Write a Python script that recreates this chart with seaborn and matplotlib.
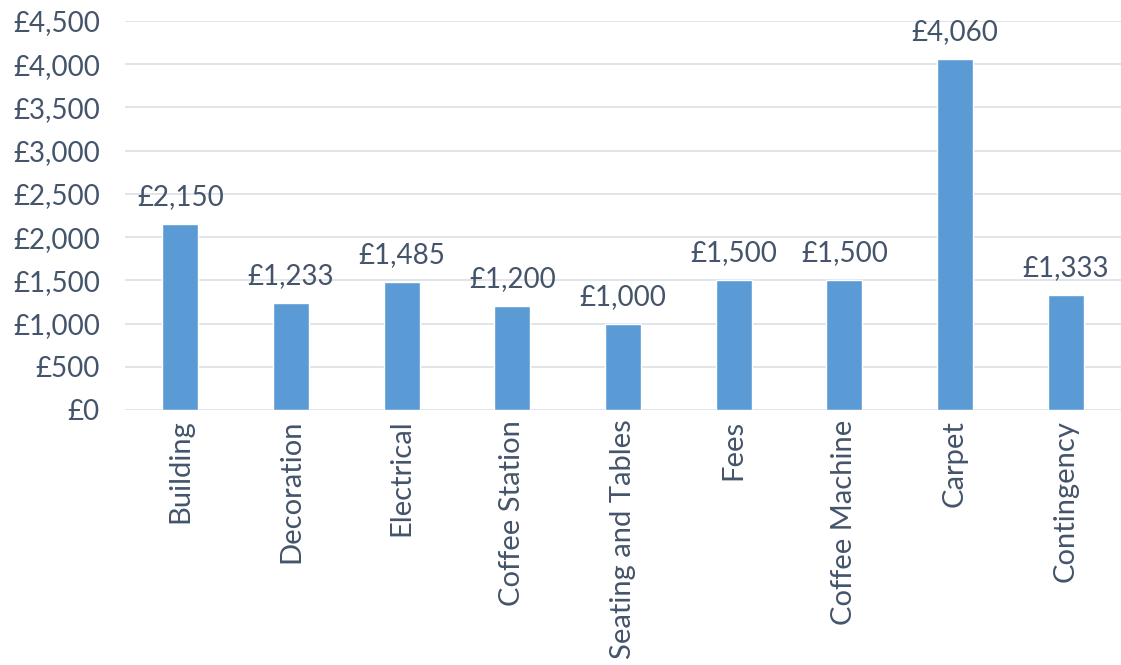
import matplotlib
matplotlib.use("Agg")
import matplotlib.pyplot as plt
import seaborn as sns
import pandas as pd
from matplotlib.ticker import FuncFormatter

# Costes por categoría
categorias = ["Building", "Decoration", "Electrical", "Coffee Station", "Seating and Tables",
              "Fees", "Coffee Machine", "Carpet", "Contingency"]
valores = [2150, 1233, 1485, 1200, 1000, 1500, 1500, 4060, 1333]
y_ticks = [0, 500, 1000, 1500, 2000, 2500, 3000, 3500, 4000, 4500]

TEXTO = "#44546A"
BARRA = "#5B9BD5"
GRADE = "#E1E5EA"

sns.set_style("white")
plt.rcParams["font.family"] = ["Lato", "DejaVu Sans"]

df = pd.DataFrame({"categoria": categorias, "valor": valores})

fig = plt.figure(figsize=(11.21, 6.65), dpi=100)
ax = fig.add_axes([125 / 1121, 1 - 410 / 665, 996 / 1121, 389 / 665])

sns.barplot(data=df, x="categoria", y="valor", color=BARRA, width=0.325,
            saturation=1, ax=ax, zorder=3)

ax.set_ylim(0, 4500)
ax.set_yticks(y_ticks)
ax.yaxis.set_major_formatter(FuncFormatter(lambda v, p: f"£{v:,.0f}"))
ax.grid(axis="y", color=GRADE, linewidth=1.4, zorder=0)
ax.set_axisbelow(True)
for s in ax.spines.values():
    s.set_visible(False)

ax.set_xlabel("")
ax.set_ylabel("")
ax.tick_params(axis="both", length=0, labelcolor=TEXTO)
ax.tick_params(axis="y", pad=18, labelsize=20)
ax.tick_params(axis="x", pad=7, labelsize=21)
plt.setp(ax.get_xticklabels(), rotation=90)

# Etiquetas de datos
for c in ax.containers:
    ax.bar_label(c, labels=[f"£{v:,.0f}" for v in valores], padding=10,
                 fontsize=20, color=TEXTO)

fig.savefig("out.png", dpi=100)
